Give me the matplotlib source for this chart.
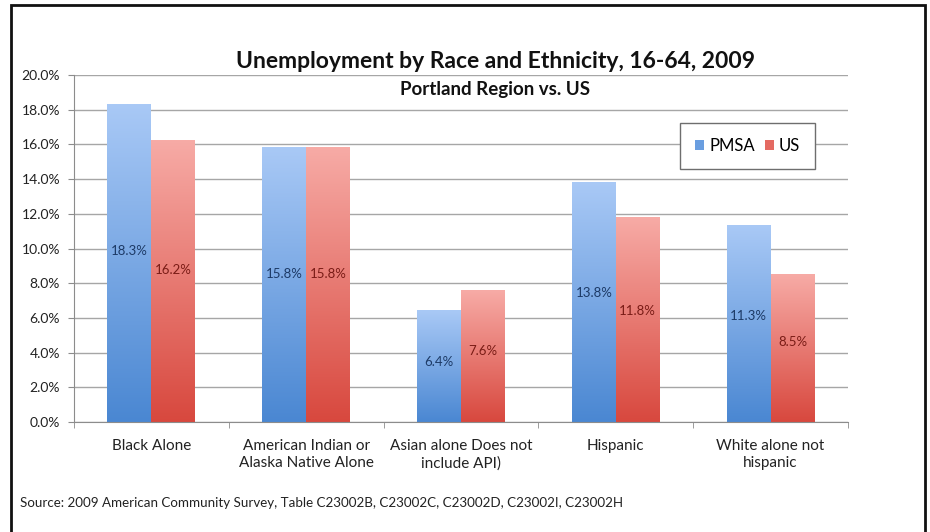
import matplotlib

matplotlib.use("Agg")
import matplotlib.pyplot as plt
import numpy as np
from matplotlib.colors import LinearSegmentedColormap
from matplotlib.patches import Patch, Rectangle
from matplotlib.ticker import FixedLocator, FuncFormatter

# Values (percent unemployed, ages 16-64, 2009)
categories = [
    "Black Alone",
    "American Indian or\nAlaska Native Alone",
    "Asian alone Does not\ninclude API)",
    "Hispanic",
    "White alone not\nhispanic",
]
pmsa = [18.3, 15.8, 6.4, 13.8, 11.3]
us = [16.2, 15.8, 7.6, 11.8, 8.5]
series_names = ["PMSA", "US"]

FONT = ["Lato", "DejaVu Sans"]
plt.rcParams["font.family"] = FONT

blue_grad = LinearSegmentedColormap.from_list("b", ["#4a87d2", "#a9c9f6"])
red_grad = LinearSegmentedColormap.from_list("r", ["#d8483e", "#f7aba6"])


def gradient_bars(ax, bars, cmap):
    """Paint each bar with a vertical gradient (dark bottom, light top)."""
    grad = np.linspace(0, 1, 256).reshape(-1, 1)
    for b in bars:
        x0, y0 = b.get_x(), b.get_y()
        w, h = b.get_width(), b.get_height()
        ax.imshow(grad, extent=(x0, x0 + w, y0, y0 + h), origin="lower",
                  cmap=cmap, aspect="auto", zorder=2, interpolation="bilinear")
        b.set_visible(False)


fig = plt.figure(figsize=(9.3, 5.32), dpi=100)
ax = fig.add_axes([74 / 930, 1 - 422 / 532, (848 - 74) / 930, (422 - 75) / 532])

x = np.arange(len(categories))
w = 0.284
b1 = ax.bar(x - w / 2, pmsa, w)
b2 = ax.bar(x + w / 2, us, w)
gradient_bars(ax, b1, blue_grad)
gradient_bars(ax, b2, red_grad)

for xi, v in zip(x - w / 2, pmsa):
    ax.text(xi, v * 0.54, f"{v:.1f}%", ha="center", va="center",
            fontsize=9.5, color="#1d3a66", zorder=3)
for xi, v in zip(x + w / 2, us):
    ax.text(xi, v * 0.54, f"{v:.1f}%", ha="center", va="center",
            fontsize=9.5, color="#7a1c16", zorder=3)

ax.set_xlim(-0.5, len(categories) - 0.5)
ax.set_ylim(0, 20)
ax.yaxis.set_major_locator(FixedLocator(np.arange(0, 20.01, 2)))
ax.yaxis.set_major_formatter(FuncFormatter(lambda v, _: f"{v:.1f}%"))
ax.grid(axis="y", color="#a6a6a6", linewidth=1.0, zorder=0)
ax.set_axisbelow(True)

ax.set_xticks(x)
ax.set_xticklabels(categories, fontsize=11, color="#222222", linespacing=1.3)
ax.xaxis.set_minor_locator(FixedLocator(np.arange(-0.5, len(categories), 1)))
ax.tick_params(axis="x", which="major", length=0, pad=12)
ax.tick_params(axis="x", which="minor", length=4, color="#8c8c8c")
ax.tick_params(axis="y", length=4, color="#8c8c8c", labelsize=10,
               labelcolor="#222222", pad=6)

for side in ("top", "right"):
    ax.spines[side].set_visible(False)
for side in ("left", "bottom"):
    ax.spines[side].set_color("#8c8c8c")

fig.text(495 / 930, 1 - 62 / 532, "Unemployment by Race and Ethnicity, 16-64, 2009",
         ha="center", va="center", fontsize=16.5, fontweight="bold", color="#111111")
fig.text(495 / 930, 1 - 89 / 532, "Portland Region vs. US",
         ha="center", va="center", fontsize=13.5, fontweight="bold", color="#111111")

handles = [Patch(facecolor="#6a9ee0"), Patch(facecolor="#e46a62")]
leg = ax.legend(handles, series_names, loc="upper left",
                bbox_to_anchor=((680 - 74) / 774, (422 - 123) / 347),
                fontsize=12, ncol=2, handlelength=0.55, handleheight=0.55,
                handletextpad=0.3, columnspacing=0.6, fancybox=False,
                framealpha=1, borderpad=0.9, borderaxespad=0)
leg.get_frame().set_edgecolor("#6e6e6e")
leg.get_frame().set_linewidth(1.0)

fig.text(20 / 930, 1 - 503 / 532,
         "Source: 2009 American Community Survey, Table C23002B, C23002C, C23002D, C23002I, C23002H",
         ha="left", va="center", fontsize=9.6, color="#222222")

# outer frame of the original slide graphic
fig.patches.append(Rectangle((11 / 930, -0.05), (925 - 11) / 930, 1 - 5 / 532 + 0.05,
                             transform=fig.transFigure, fill=False,
                             edgecolor="#111111", linewidth=2))

fig.savefig("out.png", dpi=100, facecolor="white")
